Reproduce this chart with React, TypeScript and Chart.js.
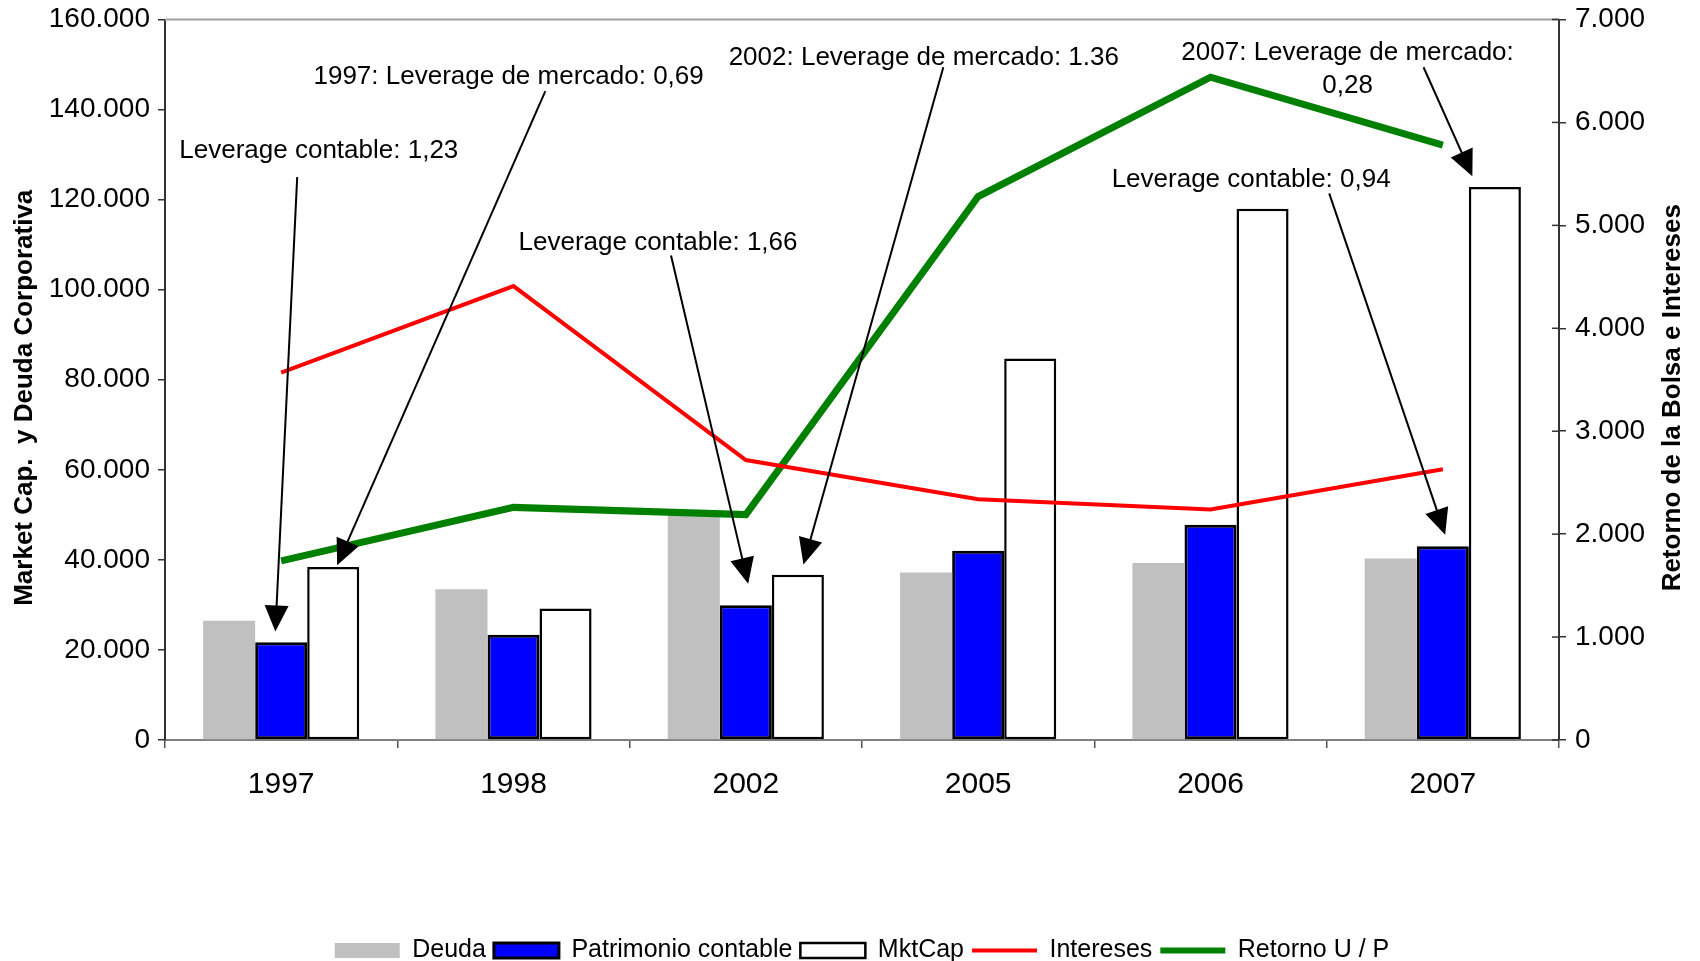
import React, { useEffect, useRef } from 'react';
import { Chart, registerables } from 'chart.js';

Chart.register(...registerables);

const CATEGORIES = ['1997', '1998', '2002', '2005', '2006', '2007'];
const DEUDA = [26500, 33500, 50000, 37200, 39300, 40300];
const PATRIMONIO = [21700, 23400, 29900, 42000, 47800, 43000];
const MKTCAP = [38400, 29200, 36700, 84700, 118000, 122800];
const INTERESES = [3570, 4410, 2720, 2340, 2240, 2630];
const RETORNO = [1740, 2260, 2190, 5280, 6440, 5780];

const LEFT_TICK_LABELS = ['0', '20.000', '40.000', '60.000', '80.000', '100.000', '120.000', '140.000', '160.000'];
const RIGHT_TICK_LABELS = ['0', '1.000', '2.000', '3.000', '4.000', '5.000', '6.000', '7.000'];

const LEFT_TITLE = 'Market Cap.  y Deuda Corporativa';
const RIGHT_TITLE = 'Retorno de la Bolsa e Intereses';

// annotation texts and anchors in data units: [category index, left-axis value]
const NOTE_TEXTS = [
  ['Leverage contable: 1,23'],
  ['1997: Leverage de mercado: 0,69'],
  ['Leverage contable: 1,66'],
  ['2002: Leverage de mercado: 1.36'],
  ['Leverage contable: 0,94'],
  ['2007: Leverage de mercado:', '0,28'],
];
const NOTE_TEXT_AT = [
  [0.162, 130800], [0.979, 147200], [1.622, 110500], [2.766, 151500], [4.175, 124300], [4.59, 148900],
];
const NOTE_ARROW_FROM = [
  [0.069, 125000], [1.137, 144100], [1.678, 107600], [2.85, 149400], [4.511, 121400], [4.917, 149400],
];
const NOTE_ARROW_TO = [
  [-0.025, 24100], [0.241, 38800], [2.01, 34700], [2.248, 39000], [5.01, 45600], [5.127, 125200],
];

const FONT = "'Liberation Sans', Arial, sans-serif";

function drawArrow(ctx: CanvasRenderingContext2D, x0: number, y0: number, x1: number, y1: number) {
  const ang = Math.atan2(y1 - y0, x1 - x0);
  const L = 26;
  const W = 12;
  const bx = x1 - L * Math.cos(ang);
  const by = y1 - L * Math.sin(ang);
  ctx.beginPath();
  ctx.moveTo(x0, y0);
  ctx.lineTo(bx + 2 * Math.cos(ang), by + 2 * Math.sin(ang));
  ctx.stroke();
  ctx.beginPath();
  ctx.moveTo(x1, y1);
  ctx.lineTo(bx + W * Math.sin(ang), by - W * Math.cos(ang));
  ctx.lineTo(bx - W * Math.sin(ang), by + W * Math.cos(ang));
  ctx.closePath();
  ctx.fill();
}

const overlayPlugin = {
  id: 'overlay',
  afterDatasetsDraw(chart: any) {
    const { ctx, chartArea, scales } = chart;
    const xs = scales.x;
    const ys = scales.y;
    const y1s = scales.y1;
    ctx.save();
    // plot area top border
    ctx.strokeStyle = '#a0a0a0';
    ctx.lineWidth = 2;
    ctx.beginPath();
    ctx.moveTo(chartArea.left, chartArea.top);
    ctx.lineTo(chartArea.right, chartArea.top);
    ctx.stroke();
    // inward ticks on the right axis
    ctx.strokeStyle = '#333';
    ctx.lineWidth = 1.5;
    y1s.ticks.forEach((t: any) => {
      const py = y1s.getPixelForValue(t.value);
      ctx.beginPath();
      ctx.moveTo(chartArea.right - 7, py);
      ctx.lineTo(chartArea.right, py);
      ctx.stroke();
    });
    // arrows
    ctx.strokeStyle = '#000';
    ctx.fillStyle = '#000';
    ctx.lineWidth = 2;
    for (let i = 0; i < NOTE_TEXTS.length; i++) {
      const f = NOTE_ARROW_FROM[i];
      const t = NOTE_ARROW_TO[i];
      drawArrow(
        ctx,
        xs.getPixelForValue(f[0]), ys.getPixelForValue(f[1]),
        xs.getPixelForValue(t[0]), ys.getPixelForValue(t[1])
      );
    }
    // texts
    ctx.font = `26px ${FONT}`;
    ctx.textAlign = 'center';
    ctx.textBaseline = 'middle';
    ctx.fillStyle = '#000';
    for (let i = 0; i < NOTE_TEXTS.length; i++) {
      const lines = NOTE_TEXTS[i];
      const cx = xs.getPixelForValue(NOTE_TEXT_AT[i][0]);
      const cy = ys.getPixelForValue(NOTE_TEXT_AT[i][1]);
      const lh = 32.6;
      lines.forEach((ln, k) => {
        ctx.fillText(ln, cx, cy + (k - (lines.length - 1) / 2) * lh);
      });
    }
    // axis titles
    const midY = (chartArea.top + chartArea.bottom) / 2 + 18;
    ctx.font = `bold 26px ${FONT}`;
    ctx.save();
    ctx.translate(ys.left + 1, midY);
    ctx.rotate(-Math.PI / 2);
    ctx.fillText(LEFT_TITLE, 0, 0);
    ctx.restore();
    ctx.save();
    ctx.translate(y1s.right - 27, midY);
    ctx.rotate(-Math.PI / 2);
    ctx.fillText(RIGHT_TITLE, 0, 0);
    ctx.restore();
    ctx.restore();
  },
};

const fitVertical = (s: any) => {
  s.width = 141;
  s.paddingTop = 10;
  s.paddingBottom = 10;
};

export default function App() {
  const ref = useRef<HTMLCanvasElement | null>(null);
  useEffect(() => {
    if (!ref.current) return;
    const chart = new Chart(ref.current, {
      type: 'bar',
      data: {
        labels: CATEGORIES,
        datasets: [
          {
            type: 'bar', label: 'Deuda', data: DEUDA, yAxisID: 'y', order: 2,
            backgroundColor: '#c0c0c0', borderWidth: 0,
          },
          {
            type: 'bar', label: 'Patrimonio contable', data: PATRIMONIO, yAxisID: 'y', order: 2,
            backgroundColor: '#0000ff', borderColor: '#000', borderWidth: 3, borderSkipped: false,
          },
          {
            type: 'bar', label: 'MktCap', data: MKTCAP, yAxisID: 'y', order: 2,
            backgroundColor: '#ffffff', borderColor: '#000', borderWidth: 2.5, borderSkipped: false,
          },
          {
            type: 'line', label: 'Intereses', data: INTERESES, yAxisID: 'y1', order: 1,
            borderColor: '#ff0000', backgroundColor: '#ff0000', borderWidth: 4, pointRadius: 0, tension: 0, fill: false,
          },
          {
            type: 'line', label: 'Retorno U / P', data: RETORNO, yAxisID: 'y1', order: 1,
            borderColor: '#008000', backgroundColor: '#008000', borderWidth: 7, pointRadius: 0, tension: 0, fill: false,
          },
        ] as any,
      },
      options: {
        responsive: false,
        animation: false,
        devicePixelRatio: 1,
        layout: { padding: { left: 24, right: 0, top: 19.5, bottom: -12 } },
        datasets: { bar: { categoryPercentage: 0.672, barPercentage: 1 } },
        plugins: {
          tooltip: { enabled: false },
          title: { display: false },
          legend: {
            position: 'bottom',
            labels: {
              usePointStyle: true,
              pointStyleWidth: 65,
              boxHeight: 15,
              padding: 8,
              color: '#000',
              font: { family: FONT, size: 25 },
              generateLabels: (c: any) =>
                c.data.datasets.map((ds: any, i: number) => {
                  const isLine = ds.type === 'line';
                  return {
                    text: ds.label,
                    fillStyle: ds.backgroundColor,
                    strokeStyle: isLine ? ds.borderColor : '#000',
                    lineWidth: isLine ? (i === 3 ? 4 : 6) : (ds.borderWidth || 0),
                    pointStyle: isLine ? 'line' : 'rect',
                    datasetIndex: i,
                    hidden: false,
                    fontColor: '#000',
                  };
                }),
            },
          },
        },
        scales: {
          x: {
            grid: { display: true, drawOnChartArea: false, drawTicks: true, tickLength: 8, color: '#555', lineWidth: 1.5, offset: true },
            border: { display: true, color: '#808080', width: 2 },
            ticks: { color: '#000', font: { family: FONT, size: 30 }, padding: 19, maxRotation: 0 },
            afterFit: (s: any) => { s.height = 190; },
          },
          y: {
            position: 'left',
            min: 0, max: 160000,
            grid: { display: true, drawOnChartArea: false, drawTicks: true, tickLength: 7, color: '#333', lineWidth: 1.5 },
            border: { display: true, color: '#333', width: 2 },
            ticks: {
              stepSize: 20000, color: '#000', font: { family: FONT, size: 28 }, padding: 8,
              callback: (_v: any, i: number) => LEFT_TICK_LABELS[i],
            },
            afterFit: fitVertical,
          },
          y1: {
            position: 'right',
            min: 0, max: 7000,
            grid: { display: true, drawOnChartArea: false, drawTicks: true, tickLength: 7, color: '#333', lineWidth: 1.5 },
            border: { display: true, color: '#333', width: 2 },
            ticks: {
              stepSize: 1000, color: '#000', font: { family: FONT, size: 28 }, padding: 9,
              callback: (_v: any, i: number) => RIGHT_TICK_LABELS[i],
            },
            afterFit: fitVertical,
          },
        },
      } as any,
      plugins: [overlayPlugin],
    });
    return () => chart.destroy();
  }, []);
  return (
    <div style={{ position: 'absolute', left: 0, top: 0, width: 1700, height: 961, background: '#fff' }}>
      <canvas ref={ref} width={1700} height={961} style={{ display: 'block' }} />
    </div>
  );
}
